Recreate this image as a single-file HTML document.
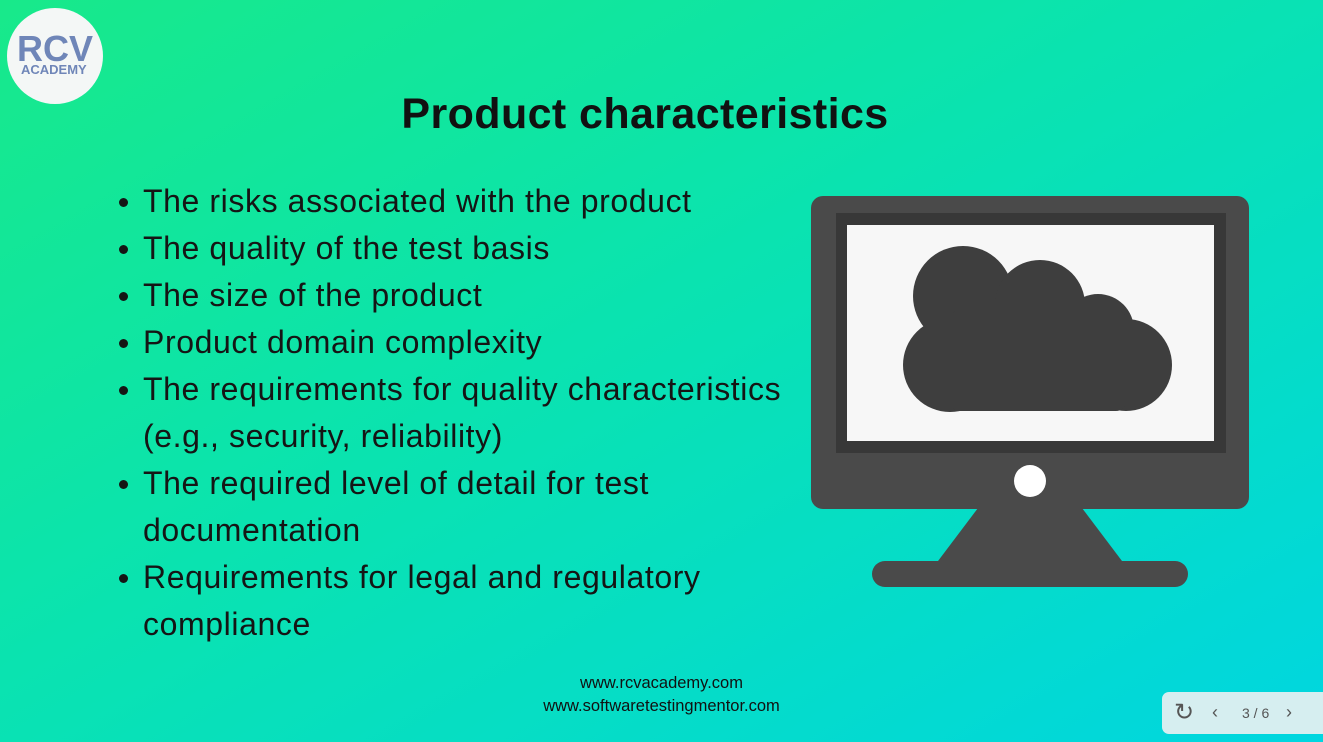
<!DOCTYPE html>
<html><head><meta charset="utf-8"><style>
body{margin:0;width:1323px;height:742px;overflow:hidden;position:relative;font-family:"Liberation Sans",sans-serif;
background:linear-gradient(150deg,#18e98a 0%,#0ae3b0 45%,#00d6e0 100%);}
.logo{position:absolute;left:7px;top:8px;width:96px;height:96px;border-radius:50%;background:#f4f7f6;}
.logo span{position:absolute;color:#6f86b8;font-weight:bold}
h1{position:absolute;left:0;width:1290px;text-align:center;top:90px;margin:0;font-size:43px;font-weight:bold;color:#111;letter-spacing:0.4px}
ul{position:absolute;left:115px;top:178px;margin:0;padding:0;list-style:none;font-size:32px;letter-spacing:0.6px;color:#151515;line-height:47px}
li{padding-left:28px;position:relative}
li.b::before{content:"";position:absolute;left:4px;top:20px;width:9px;height:9px;border-radius:50%;background:#151515}
.url{position:absolute;width:1323px;left:0;text-align:center;font-size:16.5px;color:#111}
.ctrl{position:absolute;left:1162px;top:692px;width:170px;height:42px;border-radius:7px;background:#d6eef0;color:#555;font-size:14px}
</style></head><body>
<div class="logo"><span style="left:10px;top:20px;font-size:36px">RCV</span><span style="left:14px;top:54px;font-size:13px">ACADEMY</span></div>
<h1>Product characteristics</h1>
<ul>
<li class="b">The risks associated with the product</li>
<li class="b">The quality of the test basis</li>
<li class="b">The size of the product</li>
<li class="b">Product domain complexity</li>
<li class="b">The requirements for quality characteristics</li>
<li>(e.g., security, reliability)</li>
<li class="b">The required level of detail for test</li>
<li>documentation</li>
<li class="b">Requirements for legal and regulatory</li>
<li>compliance</li>
</ul>
<svg style="position:absolute;left:0;top:0" width="1323" height="742">
<rect x="811" y="196" width="438" height="313" rx="12" fill="#4a4a4a"/>
<rect x="836" y="213" width="390" height="240" fill="#383838"/>
<rect x="847" y="225" width="367" height="216" fill="#f7f7f7"/>
<circle cx="1030" cy="481" r="16" fill="#fff"/>
<polygon points="978,508 1082,508 1125,565 935,565" fill="#4a4a4a"/>
<rect x="872" y="561" width="316" height="26" rx="13" fill="#4a4a4a"/>
<g fill="#3e3e3e">
<circle cx="963" cy="296" r="50"/><circle cx="1040" cy="305" r="45"/><circle cx="1098" cy="330" r="36"/>
<circle cx="950" cy="365" r="47"/><circle cx="1126" cy="365" r="46"/>
<rect x="950" y="310" width="176" height="101" rx="10"/>
</g>
</svg>
<div class="url" style="top:674px">www.rcvacademy.com</div>
<div class="url" style="top:697px">www.softwaretestingmentor.com</div>
<div class="ctrl">
<span style="position:absolute;left:12px;top:6px;font-size:24px">↻</span>
<span style="position:absolute;left:50px;top:10px;font-size:18px">‹</span>
<span style="position:absolute;left:80px;top:13px">3 / 6</span>
<span style="position:absolute;left:124px;top:10px;font-size:18px">›</span>
</div>
</body></html>
